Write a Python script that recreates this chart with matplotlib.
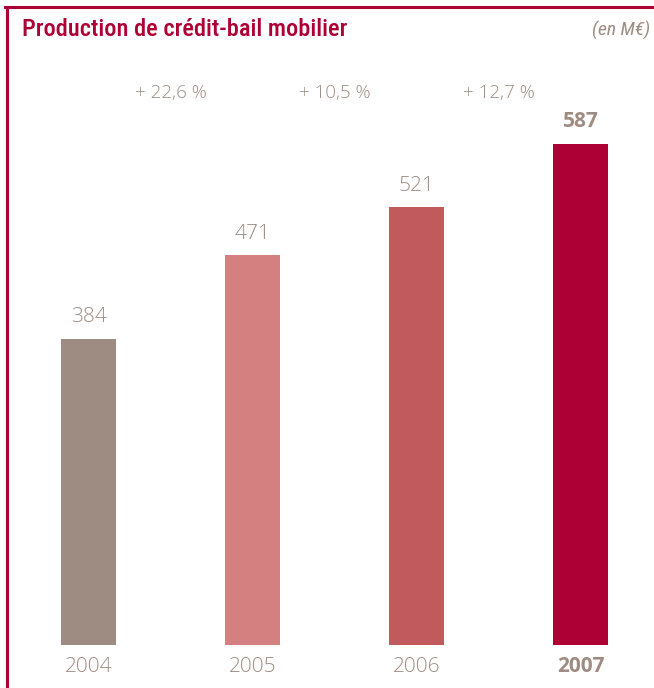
import matplotlib
matplotlib.use("Agg")
import matplotlib.pyplot as plt
from matplotlib.lines import Line2D

years = ["2004", "2005", "2006", "2007"]
values = [384, 471, 521, 587]
growth = ["+ 22,6 %", "+ 10,5 %", "+ 12,7 %"]
bar_colors = ["#9e8c83", "#d48080", "#c05a5c", "#ad0034"]

crimson = "#ad0034"
grey = "#9e8c83"
W, H = 654, 688
body = ["Open Sans", "DejaVu Sans"]
narrow = ["Roboto Condensed", "DejaVu Sans"]

fig = plt.figure(figsize=(W / 100, H / 100), dpi=100)
fig.patch.set_facecolor("white")

# axes spans full width; baseline at y=645 px, top at y=83 px
ax = fig.add_axes([0, (H - 645) / H, 1, (645 - 83) / H])
ax.set_xlim(-88.5 / 164, (W - 88.5) / 164)
ax.set_ylim(65, 650)
ax.axis("off")

xs = list(range(len(values)))
ax.bar(xs, values, width=55 / 164, color=bar_colors, zorder=2)

for x, v, yr in zip(xs, values, years):
    bold = yr == years[-1]
    ax.annotate(str(v), (x, v), xytext=(0, 8), textcoords="offset points",
                ha="center", va="bottom", fontsize=15, color=grey,
                family=body, fontweight="bold" if bold else "light")

# growth rates between consecutive bars
for i, g in enumerate(growth):
    fig.text((88.5 + 164 * (i + 0.5)) / W, 1 - 93 / H, g, ha="center",
             va="center", fontsize=13.5, color=grey, family=body,
             fontweight="light")

# year labels under the bars
for x, yr in zip(xs, years):
    bold = yr == years[-1]
    fig.text((88.5 + 164 * x) / W, 1 - 667 / H, yr, ha="center", va="center",
             fontsize=15, color=grey, family=body,
             fontweight="bold" if bold else "light")

# title and unit
fig.text(22 / W, 1 - 30 / H, "Production de crédit-bail mobilier",
         ha="left", va="center", fontsize=17.6, color=crimson,
         family=narrow, fontweight="medium")
fig.text(650 / W, 1 - 30 / H, "(en M€)", ha="right", va="center",
         fontsize=14, color=grey, style="italic", family=narrow)

# frame lines along top and left edge
fig.add_artist(Line2D([5 / W, 1], [1 - 6.5 / H, 1 - 6.5 / H], color=crimson,
                      lw=2.2, transform=fig.transFigure))
fig.add_artist(Line2D([6.5 / W, 6.5 / W], [0, 1 - 6.5 / H], color=crimson,
                      lw=2.2, transform=fig.transFigure))

fig.savefig("out.png", dpi=100, facecolor="white")
